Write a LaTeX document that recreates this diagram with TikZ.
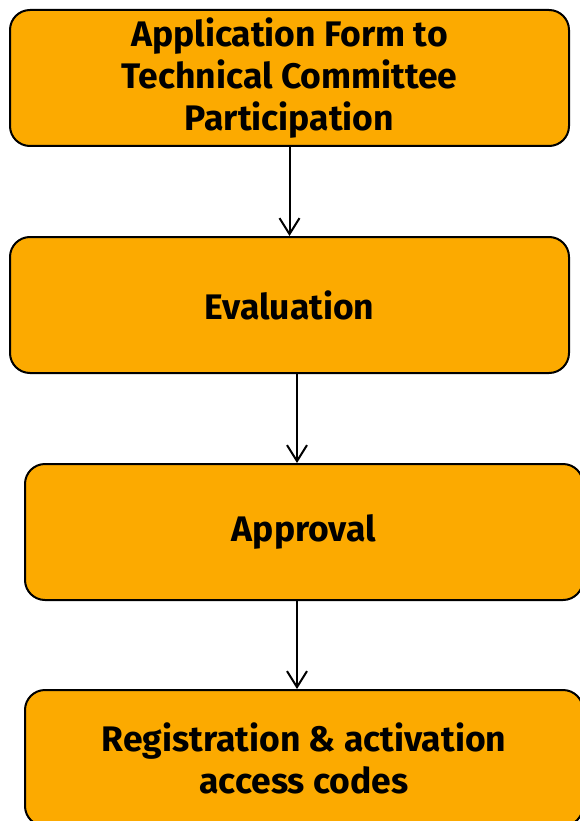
\documentclass[tikz,border=0pt]{standalone}
\usepackage{fontspec}
\setmainfont{Fira Sans}
\usetikzlibrary{arrows.meta}
\definecolor{stepfill}{RGB}{252,170,0}
\begin{document}
\begin{tikzpicture}[x=1pt,y=-1pt,
    stepbox/.style={draw=black, line width=2pt, fill=stepfill, rounded corners=20pt,
        minimum height=136pt, align=center,
        font=\bfseries\fontsize{35.5}{42}\selectfont},
    flow/.style={line width=2pt, -{Straight Barb[length=16pt,width=20pt,line width=2pt]}}]
    \useasboundingbox (0,0) rectangle (580,821);
    \clip (0,0) rectangle (580,821);
    %application form
    \node[stepbox, minimum width=559pt] (form) at (289.5,78) {Application Form to\\Technical Committee\\Participation};
    %evaluation
    \node[stepbox, minimum width=559pt] (eval) at (289.5,305) {Evaluation};
    %approval
    \node[stepbox, minimum width=558pt] (appr) at (304,532) {Approval};
    %registration
    \node[stepbox, minimum width=558pt] (regi) at (304,758) {Registration \& activation\\access codes};

    \draw[flow] (form.south) -- (eval.north);
    \draw[flow] ([xshift=7.5pt]eval.south) -- ([xshift=-7pt]appr.north);
    \draw[flow] ([xshift=-7pt]appr.south) -- ([xshift=-7pt]regi.north);
\end{tikzpicture}
\end{document}
